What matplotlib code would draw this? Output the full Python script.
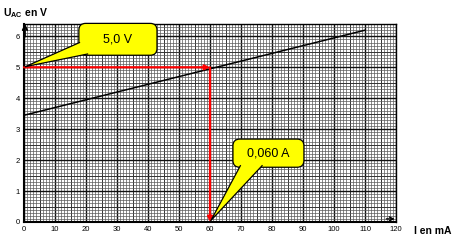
import numpy as np
import matplotlib.pyplot as plt
from matplotlib.patches import FancyBboxPatch, Polygon

plt.rcParams['font.family'] = ['Liberation Sans', 'DejaVu Sans']
plt.rcParams['mathtext.fontset'] = 'custom'
plt.rcParams['mathtext.bf'] = 'Liberation Sans:bold'
plt.rcParams['mathtext.rm'] = 'Liberation Sans'

# Characteristic line U_AC = f(I)
current_ma = [0, 110]
voltage_v = [3.45, 6.2]

# Reading point
point_i = 60
point_u = 5.0

x_ticks = [0, 10, 20, 30, 40, 50, 60, 70, 80, 90, 100, 110, 120]
y_ticks = [0, 1, 2, 3, 4, 5, 6]
label_u = '5,0 V'
label_i = '0,060 A'

fig = plt.figure(figsize=(4.55, 2.5), dpi=100)
ax = fig.add_axes([24 / 455, 28 / 250, 372 / 455, 198 / 250])
ax.set_xlim(0, 120)
ax.set_ylim(0, 6.4)

# millimetre paper
for v in np.arange(0, 121, 1):
    if v % 10 == 0:
        lw, c = 1.0, '#111111'
    elif v % 5 == 0:
        lw, c = 0.7, '#333333'
    else:
        lw, c = 0.5, '#5a5a5a'
    ax.axvline(v, color=c, lw=lw, zorder=1)
for v in np.arange(0, 6.41, 0.1):
    k = int(round(v * 10))
    if k % 10 == 0:
        lw, c = 1.0, '#111111'
    elif k % 5 == 0:
        lw, c = 0.7, '#333333'
    else:
        lw, c = 0.5, '#5a5a5a'
    ax.axhline(v, color=c, lw=lw, zorder=1)

for s in ax.spines.values():
    s.set_color('black')
    s.set_linewidth(1.0)
ax.spines['left'].set_linewidth(1.5)
ax.spines['bottom'].set_linewidth(1.5)

ax.set_xticks(x_ticks)
ax.set_yticks(y_ticks)
ax.tick_params(length=0, labelsize=5.5, pad=3)

# characteristic line
ax.plot(current_ma, voltage_v, color='black', lw=1.1, zorder=3)

# red reading arrows
ax.annotate('', xy=(point_i, point_u), xytext=(0, point_u),
            arrowprops=dict(arrowstyle='-|>', color='red', lw=1.6,
                            shrinkA=0, shrinkB=0, mutation_scale=7), zorder=4)
ax.annotate('', xy=(point_i, 0), xytext=(point_i, point_u),
            arrowprops=dict(arrowstyle='-|>', color='red', lw=1.6,
                            shrinkA=0, shrinkB=0, mutation_scale=7), zorder=4)

# axis arrows
ax.annotate('', xy=(0.3, 6.5), xytext=(0.3, 5.9),
            arrowprops=dict(arrowstyle='->', color='black', lw=1.3, mutation_scale=8),
            annotation_clip=False)
ax.annotate('', xy=(120.5, 0.1), xytext=(116, 0.1),
            arrowprops=dict(arrowstyle='->', color='black', lw=1.0, mutation_scale=7),
            annotation_clip=False)


def callout(x0, x1, y0, y1, base, tip, text):
    box = FancyBboxPatch((x0, y0), x1 - x0, y1 - y0,
                         boxstyle='round,pad=0,rounding_size=2.2',
                         mutation_aspect=0.1, fc='#ffff00', ec='black',
                         lw=0.9, zorder=6, clip_on=False)
    ax.add_patch(box)
    fill = Polygon([base[0], base[1], tip], closed=True, fc='#ffff00',
                   ec='none', zorder=7, clip_on=False)
    ax.add_patch(fill)
    ax.plot([base[0][0], tip[0], base[1][0]], [base[0][1], tip[1], base[1][1]],
            color='black', lw=0.9, zorder=8, clip_on=False)
    ax.text((x0 + x1) / 2, (y0 + y1) / 2, text, ha='center', va='center',
            fontsize=9, zorder=9)


callout(17.7, 42.9, 5.39, 6.42, [(17.9, 5.80), (20.5, 5.43)], (0.4, 5.02), label_u)
callout(67.4, 90.3, 1.77, 2.68, [(69.8, 1.82), (76.8, 1.82)], (60.3, 0.05), label_i)

fig.text(3 / 455, 1 - 13 / 250, r'$\mathbf{U_{AC}}$ en V', fontsize=7.5,
         fontweight='bold', va='center', ha='left')
fig.text(452 / 455, 1 - 231 / 250, 'I en mA', fontsize=7.5,
         fontweight='bold', va='center', ha='right')

fig.savefig('out.png', dpi=100)
